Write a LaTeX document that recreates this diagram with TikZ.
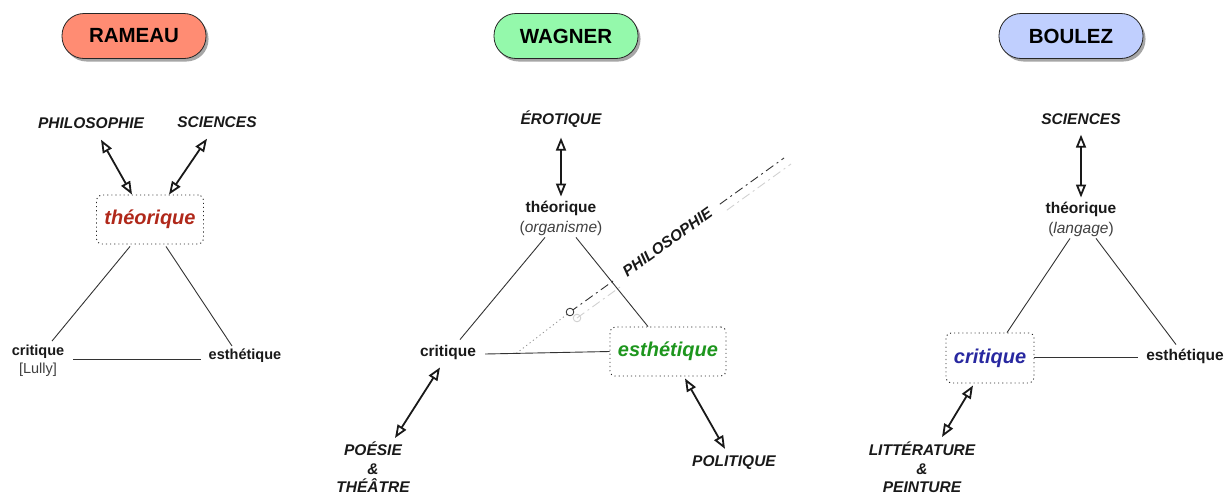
\documentclass[tikz,border=0pt]{standalone}
\usepackage{fontspec}
\setmainfont{Liberation Sans}
\usetikzlibrary{arrows.meta,shadows,calc}
\definecolor{rameaucol}{HTML}{FF8C73}
\definecolor{wagnercol}{HTML}{94F9AB}
\definecolor{boulezcol}{HTML}{C0CFFE}
\definecolor{theored}{HTML}{B0281A}
\definecolor{esthgreen}{HTML}{1E961E}
\definecolor{critblue}{HTML}{2828A0}
\tikzset{
  pill/.style={draw=black!85, line width=0.8pt, rounded corners=22pt, minimum width=144pt, minimum height=45pt,
    font=\fontsize{20.5}{24}\selectfont\bfseries,
    drop shadow={shadow xshift=2.5pt, shadow yshift=-3pt, opacity=0.35, fill=black}},
  dotbox/.style={draw=black!85, dash pattern=on 1.1pt off 3pt, rounded corners=5pt, line width=0.9pt, inner sep=0pt},
  caplbl/.style={font=\fontsize{15.5}{18.5}\selectfont\bfseries\itshape, text=black!90, inner sep=2pt, align=center},
  lbl/.style={font=\fontsize{15.5}{18}\selectfont\bfseries, text=black!90, inner sep=2pt},
  slbl/.style={font=\fontsize{14.5}{17}\selectfont\bfseries, text=black!90, inner sep=2pt},
  sublbl/.style={font=\fontsize{15.5}{18}\selectfont, text=black!75, inner sep=2pt},
  biglbl/.style={font=\fontsize{20}{24}\selectfont\bfseries\itshape},
  rel/.style={line width=0.9pt, draw=black!80},
  dbl/.style={line width=1.8pt, draw=black!90, {Triangle[open,length=13pt,width=10pt,fill=white]}-{Triangle[open,length=13pt,width=10pt,fill=white]}},
  dashdot/.style={dash pattern=on 9pt off 4pt on 2pt off 4pt},
  shadowline/.style={line width=0.9pt, draw=black!18},
}
\begin{document}
\begin{tikzpicture}[x=1pt,y=-1pt]
\useasboundingbox (0,0) rectangle (1227,496);

% ---------------- titles
\node[pill, fill=rameaucol] (rameau) at (134,36) {RAMEAU};
\node[pill, fill=wagnercol] (wagner) at (566,36) {WAGNER};
\node[pill, fill=boulezcol] (boulez) at (1071,36) {BOULEZ};

% ---------------- RAMEAU
\node[caplbl] (philR) at (91,123) {PHILOSOPHIE};
\node[caplbl] (sciR) at (217,122) {SCIENCES};
\node[dotbox, minimum width=107pt, minimum height=49pt] (theoR) at (150,219.5) {};
\node[biglbl, text=theored] (theoRt) at (theoR.center) {théorique};
\node[slbl] (critR) at (38,352) {critique};
\node[sublbl, font=\fontsize{14.5}{17}\selectfont] (lullyR) at (38,370) {[Lully]};
\node[slbl] (esthR) at (245,356) {esthétique};

\draw[dbl] ([shift={(10,9)}]philR.south) -- ([shift={(-18,0)}]theoR.north);
\draw[dbl] ([shift={(-10,9)}]sciR.south) -- ([shift={(19,0)}]theoR.north);
\draw[rel] ([shift={(-20,2)}]theoR.south) -- ([shift={(14,-2)}]critR.north);
\draw[rel] ([shift={(16,2)}]theoR.south) -- ([shift={(-13,-1)}]esthR.north);
\draw[rel] ([shift={(7,7)}]critR.east) -- ([shift={(-6,3)}]esthR.west);

% ---------------- WAGNER
\node[caplbl] (eroW) at (561,119) {ÉROTIQUE};
\node[lbl] (theoW) at (561,208) {théorique};
\node[sublbl] (orgW) at (561,228) {(\textit{organisme})};
\node[lbl] (critW) at (448,352) {critique};
\node[dotbox, minimum width=116pt, minimum height=49pt] (esthW) at (668,351.5) {};
\node[biglbl, text=esthgreen] (esthWt) at (esthW.center) {esthétique};
\node[caplbl, anchor=north] (poesW) at (373,440) {POÉSIE\\\&\\THÉÂTRE};
\node[caplbl] (polW) at (734,463) {POLITIQUE};

% philosophie axis
\coordinate (phA) at ($([shift={(7,2)}]critW.east)!0.25!(esthW.west)$);
\coordinate (phO) at (570,312);
\coordinate (phE) at (784,158);
\coordinate (phG1) at ($(phO)!0.21!(phE)$);
\coordinate (phG2) at ($(phO)!0.70!(phE)$);
\draw[shadowline, dashdot] ([shift={(7,6)}]phO) -- ([shift={(7,6)}]phG1);
\draw[shadowline, dashdot] ([shift={(7,6)}]phG2) -- ([shift={(7,6)}]phE);
\draw[shadowline] ([shift={(7,6)}]phO) circle (3.8);
\draw[line width=0.8pt, draw=black!45, dash pattern=on 1.2pt off 3pt] (phA) -- (phO);
\draw[line width=0.9pt, draw=black!80, dashdot] (phO) -- (phG1);
\draw[line width=0.9pt, draw=black!80, dashdot] (phG2) -- (phE);
\node[circle, draw=black!85, line width=0.8pt, fill=white, inner sep=0pt, minimum size=7.6pt] (phC) at (phO) {};
\node[caplbl, rotate=35.7] (philW) at ($(phO)!0.455!(phE)$) {PHILOSOPHIE};

\draw[dbl] ([shift={(0,8)}]eroW.south) -- ([shift={(0,-2)}]theoW.north);
\draw[rel] ([shift={(-16,0)}]orgW.south) -- ([shift={(12,-3)}]critW.north);
\draw[rel] ([shift={(15,0)}]orgW.south) -- ([shift={(-20,0)}]esthW.north);
\draw[rel] ([shift={(7,2)}]critW.east) -- (esthW.west);
\draw[dbl] ([shift={(-8,6)}]critW.south) -- ([shift={(22,-2)}]poesW.north);
\draw[dbl] ([shift={(17,2)}]esthW.south) -- ([shift={(-9,-5)}]polW.north);

% ---------------- BOULEZ
\node[caplbl] (sciB) at (1081,119) {SCIENCES};
\node[lbl] (theoB) at (1081,209) {théorique};
\node[sublbl] (langB) at (1081,229) {(\textit{langage})};
\node[dotbox, minimum width=88pt, minimum height=50pt] (critB) at (990,358) {};
\node[biglbl, text=critblue] (critBt) at (critB.center) {critique};
\node[lbl] (esthB) at (1185,356) {esthétique};
\node[caplbl, anchor=north] (litB) at (922,440) {LITTÉRATURE\\\&\\PEINTURE};

\draw[dbl] ([shift={(0,8)}]sciB.south) -- ([shift={(0,-2)}]theoB.north);
\draw[rel] ([shift={(-11,0)}]langB.south) -- ([shift={(17,0)}]critB.north);
\draw[rel] ([shift={(15,0)}]langB.south) -- ([shift={(-9,-2)}]esthB.north);
\draw[rel] ([shift={(0,-1)}]critB.east) -- ([shift={(-6,1)}]esthB.west);
\draw[dbl] ([shift={(-17,2)}]critB.south) -- ([shift={(20,-3)}]litB.north);
\end{tikzpicture}
\end{document}
